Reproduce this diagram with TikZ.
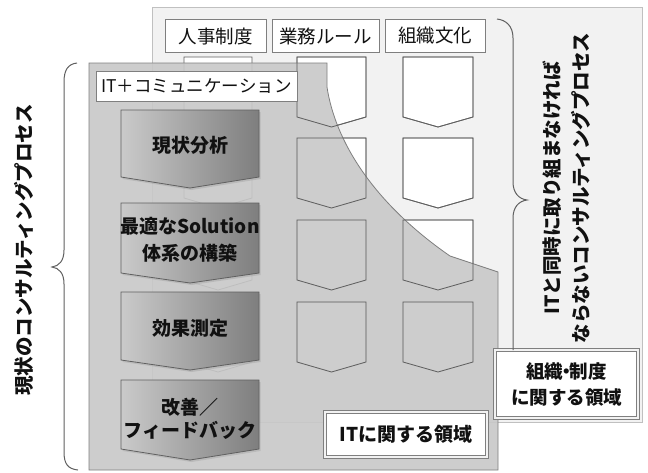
\documentclass[tikz,border=0pt]{standalone}
\usepackage{fontspec}
\setmainfont{Noto Sans CJK JP}
\usetikzlibrary{shadows}
\definecolor{backfill}{HTML}{F2F2F2}
\definecolor{backline}{HTML}{C0C0C0}
\definecolor{frontfill}{HTML}{C8C8C8}
\definecolor{frontline}{HTML}{7F7F7F}
\definecolor{chevline}{HTML}{606060}
\definecolor{gradL}{HTML}{CACACA}
\definecolor{gradR}{HTML}{7E7E7E}
\definecolor{txt}{HTML}{111111}
\begin{document}
\begin{tikzpicture}[x=1pt,y=-1pt,
  backpanel/.style={fill=backfill,draw=backline,line width=0.8pt},
  frontpanel/.style={fill=frontfill,fill opacity=0.9,draw=frontline,line width=0.8pt},
  hdrbox/.style={fill=white,draw=frontline,line width=0.8pt},
  wchev/.style={fill=white,draw=chevline,line width=0.8pt},
  ochev/.style={draw=chevline,line width=0.8pt},
  pchev/.style={left color=gradL,right color=gradR,draw=chevline,line width=0.8pt,
     drop shadow={opacity=0.25,shadow xshift=1.5pt,shadow yshift=-2pt}},
  hdrtxt/.style={text=txt,font=\fontsize{18.5}{20}\selectfont,inner sep=0pt},
  ptxt/.style={text=txt,font=\bfseries\fontsize{19}{27}\selectfont,align=center,inner sep=0pt},
  lblbox/.style={fill=white,draw=frontline,double=backfill,double distance=2pt,line width=0.8pt},
  lbltxt/.style={text=txt,font=\bfseries\fontsize{18.5}{26}\selectfont,align=center,inner sep=0pt},
  brace/.style={draw=chevline,line width=1pt},
  vtxt/.style={text=txt,font=\bfseries\fontsize{19.5}{29}\selectfont,align=center,inner sep=0pt,rotate=90}
]
\useasboundingbox (0,0) rectangle (648,472);
% back panel
\draw[backpanel] (152,7) rectangle (642,422);
% header boxes
\draw[hdrbox] (165,19) rectangle (266,52);
\draw[hdrbox] (272,19) rectangle (379,52);
\draw[hdrbox] (385,19) rectangle (485,52);
\node[hdrtxt] (h1) at (215.5,36) {人事制度};
\node[hdrtxt] (h2) at (325.5,36) {業務ルール};
\node[hdrtxt] (h3) at (435,36) {組織文化};
% white chevrons
\foreach \xa/\xb in {184/252, 297/366, 403/473}
  \foreach \t in {57,138,220,302}
    \draw[wchev] (\xa,\t) -- (\xb,\t) -- (\xb,\t+60) -- ({(\xa+\xb)/2},\t+70) -- (\xa,\t+60) -- cycle;
% front panel
\draw[frontpanel] (89,63) -- (327,63) -- (327,87) .. controls (335,140) and (372,202) .. (450,256) -- (498,272) -- (498,470) -- (89,470) -- cycle;
% outlines of chevrons seen through the front panel
\foreach \xa/\xb in {297/366, 403/473}
  \foreach \t in {57,138,220,302}
    \draw[ochev] (\xa,\t) -- (\xb,\t) -- (\xb,\t+60) -- ({(\xa+\xb)/2},\t+70) -- (\xa,\t+60) -- cycle;
% IT + communication box
\draw[hdrbox] (96,71) rectangle (297,101);
\node[hdrtxt,font=\fontsize{17.5}{20}\selectfont] (itc) at (196.5,86) {IT＋コミュニケーション};
% process chevrons
\foreach \t/\s/\p in {110/177/188, 203/273/283, 292/360/370, 380/449/460}
  \draw[pchev] (121,\t) -- (259,\t) -- (259,\s) -- (190,\p) -- (121,\s) -- cycle;
\node[ptxt] (p1) at (190,145) {現状分析};
\node[ptxt] (p2) at (190,240) {最適なSolution\\体系の構築};
\node[ptxt] (p3) at (190,328) {効果測定};
\node[ptxt,font=\bfseries\fontsize{19}{23}\selectfont] (p4) at (190,419) {改善／\\フィードバック};
% region labels
\draw[lblbox] (495,350) rectangle (638,418);
\node[lbltxt] (l1) at (566.5,384) {組織\kern-6pt・\kern-6pt制度\\に関する領域};
\draw[lblbox] (325,412) rectangle (487,457);
\node[lbltxt,font=\bfseries\fontsize{19}{22}\selectfont] (l2) at (406,434.5) {ITに関する領域};
% left brace
\draw[brace] (77,63) .. controls (68,64) and (64,70) .. (64,82) -- (64,250)
  .. controls (64,261) and (59,266) .. (52,267)
  .. controls (59,268) and (64,273) .. (64,284) -- (64,452)
  .. controls (64,464) and (68,469) .. (78,470);
% right brace
\draw[brace] (497,19) .. controls (506,20) and (513,26) .. (513,38) -- (513,182)
  .. controls (513,193) and (519,199) .. (527,200)
  .. controls (519,201) and (513,207) .. (513,218) -- (513,350);
% vertical texts
\node[vtxt] (lv) at (24,250) {現状のコンサルティングプロセス};
\node[vtxt] (rv) at (567,188) {ITと同時に取り組まなければ\\ならないコンサルティングプロセス};
\end{tikzpicture}
\end{document}
